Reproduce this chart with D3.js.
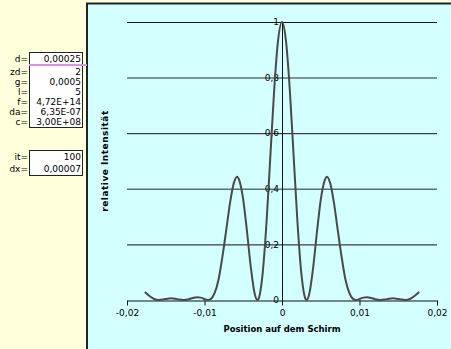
<!DOCTYPE html>
<html>
<head>
<meta charset="utf-8">
<script src="https://cdn.jsdelivr.net/npm/d3@7"></script>
<style>
  body { margin: 0; background: #ffffdc; }
  svg { display: block; font-family: "DejaVu Sans", sans-serif; }
</style>
</head>
<body>
<svg id="chart"></svg>
<script>
const SVG_WIDTH = 451;
const SVG_HEIGHT = 349;

// parameter table on the left
const paramLabels = ["d=", "zd=", "g=", "l=", "f=", "da=", "c="];
const paramValues = ["0,00025", "2", "0,0005", "5", "4,72E+14", "6,35E-07", "3,00E+08"];
const iterLabels = ["it=", "dx="];
const iterValues = ["100", "0,00007"];

// curve
const positions = [
  -0.0177, -0.0171, -0.0165, -0.0159, -0.0153, -0.0148, -0.0143, -0.0138, -0.0133, -0.0127,
  -0.0120, -0.0115, -0.0110, -0.0105, -0.0100, -0.00953, -0.0092, -0.0087, -0.0082, -0.0077,
  -0.0072, -0.0067, -0.0062, -0.0058, -0.0055, -0.0050, -0.0045, -0.0040, -0.0035, -0.00318,
  -0.0030, -0.0025, -0.0020, -0.0015, -0.0010, -0.0005, 0,
  0.0005, 0.0010, 0.0015, 0.0020, 0.0025, 0.0030, 0.00318, 0.0035, 0.0040, 0.0045,
  0.0050, 0.0055, 0.0058, 0.0062, 0.0067, 0.0072, 0.0077, 0.0082, 0.0087, 0.0092,
  0.00953, 0.0100, 0.0105, 0.0110, 0.0115, 0.0120, 0.0127, 0.0133, 0.0138, 0.0143,
  0.0148, 0.0153, 0.0159, 0.0165, 0.0171, 0.0177
];
const intensity = [
  0.0287, 0.0143, 0.0036, 0, 0.0020, 0.0047, 0.0059, 0.0045, 0.0018, 0,
  0.0030, 0.0072, 0.0099, 0.0085, 0.0034, 0, 0.0029, 0.0243, 0.0720, 0.1536,
  0.2503, 0.3504, 0.4222, 0.4435, 0.4294, 0.3603, 0.2419, 0.1123, 0.0198, 0,
  0.0062, 0.0948, 0.2780, 0.5188, 0.7589, 0.9353, 1,
  0.9353, 0.7589, 0.5188, 0.2780, 0.0948, 0.0062, 0, 0.0198, 0.1123, 0.2419,
  0.3603, 0.4294, 0.4435, 0.4222, 0.3504, 0.2503, 0.1536, 0.0720, 0.0243, 0.0029,
  0, 0.0034, 0.0085, 0.0099, 0.0072, 0.0030, 0, 0.0018, 0.0045, 0.0059,
  0.0047, 0.0020, 0, 0.0036, 0.0143, 0.0287
];

const xTicks = [-0.02, -0.01, 0, 0.01, 0.02];
const yTicks = [0, 0.2, 0.4, 0.6, 0.8, 1];

const data = positions.map(function(p, i) { return {x: p, y: intensity[i]}; });

const comma = function(v) { return String(+v.toFixed(4)).replace(".", ","); };

const xScale = d3.scaleLinear().domain([-0.02, 0.02]).range([127, 437]);
const yScale = d3.scaleLinear().domain([0, 1]).range([300, 22]);

const svg = d3.select("#chart").attr("width", SVG_WIDTH).attr("height", SVG_HEIGHT);

// backgrounds
svg.append("rect").attr("width", SVG_WIDTH).attr("height", SVG_HEIGHT).attr("fill", "#ffffdc");
svg.append("rect").attr("x", 88).attr("y", 4).attr("width", SVG_WIDTH - 88).attr("height", SVG_HEIGHT - 4)
  .attr("fill", "#d4ffff");
svg.append("path").attr("d", "M87,349V3.5H451").attr("fill", "none").attr("stroke", "#222").attr("stroke-width", 2);

// parameter boxes
const panel = svg.append("g").attr("font-size", 9).attr("fill", "#000");
const rowY = [59, 72, 82, 92, 102, 112, 122];
panel.append("rect").attr("x", 29.5).attr("y", 52.5).attr("width", 53).attr("height", 75)
  .attr("fill", "#fff").attr("stroke", "#222");
panel.append("line").attr("x1", 29).attr("x2", 87).attr("y1", 65).attr("y2", 65)
  .attr("stroke", "#e090e0").attr("stroke-width", 2);
panel.selectAll(".plab").data(paramLabels).enter().append("text")
  .attr("x", 28).attr("y", function(d, i) { return rowY[i]; })
  .attr("dy", "0.35em").attr("text-anchor", "end").text(function(d) { return d; });
panel.selectAll(".pval").data(paramValues).enter().append("text")
  .attr("x", 81).attr("y", function(d, i) { return rowY[i]; })
  .attr("dy", "0.35em").attr("text-anchor", "end").text(function(d) { return d; });

const iterY = [157, 169];
panel.append("rect").attr("x", 29.5).attr("y", 150.5).attr("width", 53).attr("height", 25)
  .attr("fill", "#fff").attr("stroke", "#222");
panel.selectAll(".ilab").data(iterLabels).enter().append("text")
  .attr("x", 28).attr("y", function(d, i) { return iterY[i]; })
  .attr("dy", "0.35em").attr("text-anchor", "end").text(function(d) { return d; });
panel.selectAll(".ival").data(iterValues).enter().append("text")
  .attr("x", 81).attr("y", function(d, i) { return iterY[i]; })
  .attr("dy", "0.35em").attr("text-anchor", "end").text(function(d) { return d; });

// gridlines (0,8 and 0,4 come out grey in the original)
svg.append("g").selectAll("line").data(yTicks.filter(function(t) { return t > 0; })).enter().append("line")
  .attr("x1", 127).attr("x2", 437)
  .attr("y1", function(d) { return yScale(d) + 0.5; }).attr("y2", function(d) { return yScale(d) + 0.5; })
  .attr("stroke", function(d) { return (d === 0.8 || d === 0.4) ? "#5f7070" : "#111"; })
  .attr("stroke-width", function(d) { return (d === 0.8 || d === 0.4) ? 1.5 : 1; });

// y axis at x = 0
svg.append("line").attr("x1", xScale(0) + 0.5).attr("x2", xScale(0) + 0.5)
  .attr("y1", 22).attr("y2", 305).attr("stroke", "#111");
svg.append("g").attr("font-size", 9).selectAll("text").data(yTicks).enter().append("text")
  .attr("x", xScale(0) - 3).attr("y", function(d) { return yScale(d); })
  .attr("dy", "0.35em").attr("text-anchor", "end").text(comma);

// x axis
const xAxis = d3.axisBottom(xScale).tickValues(xTicks).tickSize(5).tickSizeOuter(0).tickFormat(comma);
const xAxisArea = svg.append("g").attr("transform", "translate(0, 300.5)").call(xAxis);
xAxisArea.select(".domain").attr("stroke", "#111");
xAxisArea.selectAll(".tick line").attr("stroke", "#111");
xAxisArea.selectAll(".tick text").attr("font-size", 9).attr("font-family", "DejaVu Sans").attr("fill", "#000").attr("y", 9);

// curve
const line = d3.line()
  .x(function(d) { return xScale(d.x); })
  .y(function(d) { return yScale(d.y); })
  .curve(d3.curveMonotoneX);
svg.append("path").datum(data).attr("d", line)
  .attr("fill", "none").attr("stroke", "#4a4a4a").attr("stroke-width", 2);

// titles
svg.append("text").attr("x", xScale(0)).attr("y", 332).attr("text-anchor", "middle")
  .attr("font-size", 8.5).attr("font-weight", "bold").text("Position auf dem Schirm");
svg.append("text").attr("transform", "translate(108, 161) rotate(-90)").attr("text-anchor", "middle")
  .attr("font-size", 9).attr("font-weight", "bold").attr("letter-spacing", 0.5).text("relative Intensität");
</script>
</body>
</html>
